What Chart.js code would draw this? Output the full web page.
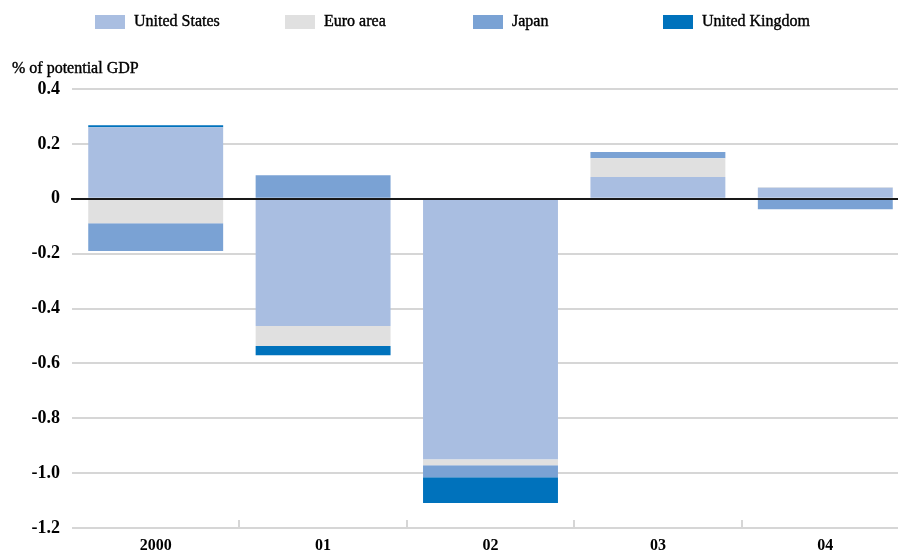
<!DOCTYPE html>
<html>
<head>
<meta charset="utf-8">
<script src="https://cdn.jsdelivr.net/npm/chart.js@4.4.1/dist/chart.umd.min.js"></script>
<style>
  html, body { margin: 0; padding: 0; background: #fff; overflow: hidden; width: 898px; height: 552px; }
  #wrap { position: relative; width: 912px; height: 552px; }
</style>
</head>
<body>
<div id="wrap"><canvas id="c" width="912" height="552"></canvas></div>
<script>
// Contributions to the output gap change, % of potential GDP
const categories = ['2000', '01', '02', '03', '04'];
const unitedStates  = [0.261, -0.464, -0.949, 0.079, 0.040];
const euroArea      = [-0.089, -0.073, -0.022, 0.069, 0.003];
const japan         = [-0.101, 0.086, -0.044, 0.022, -0.038];
const unitedKingdom = [0.007, -0.033, -0.094, 0, 0];
const seriesNames = ['United States', 'Euro area', 'Japan', 'United Kingdom'];
const yTickLabels = ['0.4', '0.2', '0', '-0.2', '-0.4', '-0.6', '-0.8', '-1.0', '-1.2'];
const yAxisTitle = '% of potential GDP';

const colors = ['#a9bee1', '#e0e0e0', '#7aa2d4', '#0072bc'];
const SERIF = '"Liberation Serif", "Times New Roman", serif';

const seriesValues = [unitedStates, euroArea, japan, unitedKingdom];
const datasets = seriesNames.map((name, i) => ({
  label: name,
  data: seriesValues[i],
  backgroundColor: colors[i],
  borderWidth: 0,
  categoryPercentage: 1,
  barPercentage: 0.806,
  stack: 'total'
}));

// Black zero line drawn over the bars
const zeroLine = {
  id: 'zeroLine',
  afterDatasetsDraw(chart) {
    const { ctx, chartArea, scales } = chart;
    const y0 = Math.round(scales.y.getPixelForValue(0));
    ctx.save();
    ctx.strokeStyle = 'rgba(0,0,0,0.9)';
    ctx.lineWidth = 2;
    ctx.beginPath();
    ctx.moveTo(chartArea.left - 1, y0);
    ctx.lineTo(chartArea.right, y0);
    ctx.stroke();
    ctx.restore();
  }
};

// Short upward separators between categories on the baseline
const categorySeparators = {
  id: 'categorySeparators',
  afterDraw(chart) {
    const { ctx, chartArea, scales } = chart;
    const x = scales.x;
    ctx.save();
    ctx.strokeStyle = '#d6d6d6';
    ctx.lineWidth = 2;
    for (let i = 1; i < categories.length; i++) {
      const px = Math.round((x.getPixelForValue(i - 1) + x.getPixelForValue(i)) / 2);
      ctx.beginPath();
      ctx.moveTo(px, chartArea.bottom);
      ctx.lineTo(px, chartArea.bottom - 8);
      ctx.stroke();
    }
    ctx.restore();
  }
};

// Legend row with evenly spaced slots, and the unit label above the axis
const header = {
  id: 'header',
  afterDraw(chart) {
    const { ctx } = chart;
    const slots = [95, 285, 473, 663];
    ctx.save();
    ctx.textBaseline = 'middle';
    ctx.textAlign = 'left';
    ctx.font = '16px ' + SERIF;
    ctx.lineWidth = 0.4;
    ctx.strokeStyle = '#000';
    chart.data.datasets.forEach((ds, i) => {
      ctx.fillStyle = ds.backgroundColor;
      ctx.fillRect(slots[i], 15, 30, 14);
      ctx.fillStyle = '#000';
      ctx.fillText(ds.label, slots[i] + 39, 22);
      ctx.strokeText(ds.label, slots[i] + 39, 22);
    });
    ctx.fillText(yAxisTitle, 12, 69);
    ctx.strokeText(yAxisTitle, 12, 69);
    ctx.restore();
  }
};

new Chart(document.getElementById('c'), {
  type: 'bar',
  data: { labels: categories, datasets },
  options: {
    responsive: false,
    animation: false,
    devicePixelRatio: 1,
    layout: { padding: { top: 89, right: 3, left: 0, bottom: 0 } },
    plugins: { legend: { display: false }, tooltip: { enabled: false }, title: { display: false } },
    scales: {
      x: {
        stacked: true,
        offset: true,
        grid: { display: false, drawTicks: false },
        border: { display: false },
        ticks: { color: '#000', padding: 8, font: { family: SERIF, size: 16, weight: 'bold' }, maxRotation: 0 },
        afterFit(scale) { scale.height = 24; }
      },
      y: {
        stacked: true,
        min: -1.2,
        max: 0.4,
        grid: {
          drawTicks: false,
          lineWidth: 2,
          color: c => (Math.abs(c.tick.value) < 1e-9 ? 'rgba(0,0,0,0)' : '#d6d6d6')
        },
        border: { display: false },
        ticks: {
          stepSize: 0.2,
          padding: 12,
          color: '#000',
          font: { family: SERIF, size: 18, weight: 'bold' },
          callback: (v, i, ticks) => yTickLabels[ticks.length - 1 - i]
        },
        afterFit(scale) { scale.width = 72; }
      }
    }
  },
  plugins: [zeroLine, categorySeparators, header]
});
</script>
</body>
</html>
